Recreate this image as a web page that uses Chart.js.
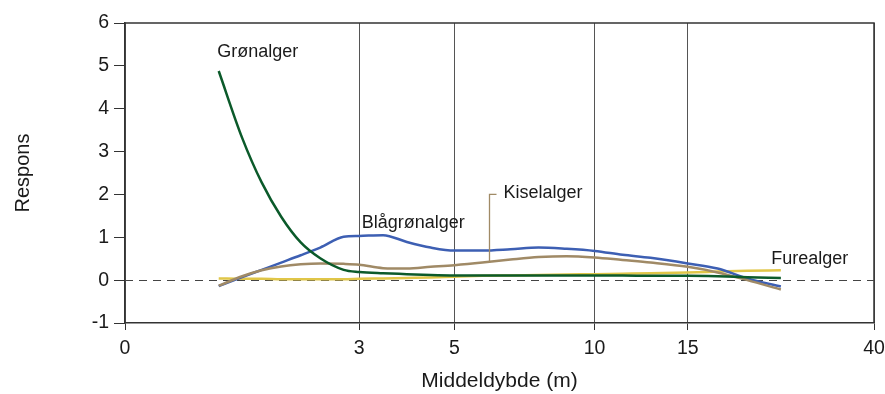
<!DOCTYPE html>
<html>
<head>
<meta charset="utf-8">
<script src="https://cdn.jsdelivr.net/npm/chart.js@4/dist/chart.umd.min.js"></script>
<style>
  html, body { margin: 0; padding: 0; background: #fff; }
  #wrap { width: 885px; height: 394px; position: relative; }
</style>
</head>
<body>
<div id="wrap"><canvas id="chart"></canvas></div>
<script>
// Mean depth (m) at which each response curve is sampled
const depths = [1.2, 1.5, 1.75, 2, 2.25, 2.5, 2.8, 3, 3.5, 4, 4.5, 5, 6, 7, 8, 9, 10, 11.5, 13, 15, 19, 23, 27.5];

// Response per algal group
const gronalger    = [4.88, 3.32, 2.28, 1.48, 0.88, 0.51, 0.24, 0.19, 0.16, 0.14, 0.12, 0.11, 0.11, 0.11, 0.11, 0.11, 0.11, 0.11, 0.10, 0.10, 0.09, 0.07, 0.05];
const blagronalger = [-0.14, 0.07, 0.24, 0.41, 0.58, 0.76, 1.01, 1.03, 1.05, 0.89, 0.76, 0.69, 0.69, 0.72, 0.76, 0.73, 0.68, 0.59, 0.52, 0.39, 0.27, 0.04, -0.15];
const kiselalger   = [-0.13, 0.09, 0.23, 0.32, 0.37, 0.39, 0.38, 0.36, 0.28, 0.27, 0.31, 0.35, 0.41, 0.48, 0.54, 0.56, 0.53, 0.47, 0.41, 0.31, 0.18, 0.00, -0.22];
const furealger    = [0.04, 0.03, 0.03, 0.02, 0.02, 0.02, 0.02, 0.03, 0.04, 0.05, 0.06, 0.08, 0.10, 0.11, 0.12, 0.13, 0.14, 0.15, 0.16, 0.18, 0.20, 0.22, 0.23];

// Axis ticks
const depthTicks = [0, 3, 5, 10, 15, 40];
const responsTicks = [-1, 0, 1, 2, 3, 4, 5, 6];

// The depth axis is stretched piecewise: each tick sits at a fixed fraction of the axis
const depthTickFractions = [0, 0.3128, 0.4398, 0.6270, 0.7513, 1];

const FONT = '"Liberation Sans", Arial, Helvetica, sans-serif';
const COLORS = {
  gron: '#0b5a2a',
  blagron: '#3d5fb3',
  kisel: '#a08a66',
  fure: '#e0c648',
  axis: '#333333',
  grid: '#555555',
  text: '#1a1a1a'
};

function depthToFraction(v) {
  const t = depthTicks, f = depthTickFractions;
  if (v <= t[0]) return f[0];
  for (let i = 1; i < t.length; i++) {
    if (v <= t[i]) return f[i - 1] + (v - t[i - 1]) / (t[i] - t[i - 1]) * (f[i] - f[i - 1]);
  }
  return f[f.length - 1];
}
function fractionToDepth(d) {
  const t = depthTicks, f = depthTickFractions;
  if (d <= f[0]) return t[0];
  for (let i = 1; i < f.length; i++) {
    if (d <= f[i]) return t[i - 1] + (d - f[i - 1]) / (f[i] - f[i - 1]) * (t[i] - t[i - 1]);
  }
  return t[t.length - 1];
}

class PiecewiseDepthScale extends Chart.LinearScale {
  static id = 'piecewiseDepth';
  static defaults = {};
  buildTicks() {
    this.min = depthTicks[0];
    this.max = depthTicks[depthTicks.length - 1];
    return depthTicks.map(v => ({ value: v }));
  }
  getPixelForValue(value) {
    return this.getPixelForDecimal(depthToFraction(value));
  }
  getValueForPixel(pixel) {
    return fractionToDepth(this.getDecimalForPixel(pixel));
  }
}
Chart.register(PiecewiseDepthScale);

function series(values) {
  return depths.map((d, i) => ({ x: d, y: values[i] }));
}
function valueAt(values, depth) {
  for (let i = 1; i < depths.length; i++) {
    if (depth <= depths[i]) {
      const t = (depth - depths[i - 1]) / (depths[i] - depths[i - 1]);
      return values[i - 1] + t * (values[i] - values[i - 1]);
    }
  }
  return values[values.length - 1];
}

// Frame, dashed zero reference and the in-plot series names
const framePlugin = {
  id: 'frameAndZero',
  beforeDatasetsDraw(chart) {
    const { ctx, chartArea: a, scales: { y } } = chart;
    ctx.save();
    ctx.strokeStyle = COLORS.axis;
    ctx.lineWidth = 1.5;
    ctx.beginPath();
    ctx.moveTo(a.left, a.top);
    ctx.lineTo(a.right, a.top);
    ctx.lineTo(a.right, a.bottom);
    ctx.stroke();
    const y0 = Math.round(y.getPixelForValue(0)) + 0.5;
    ctx.strokeStyle = '#444';
    ctx.lineWidth = 1;
    ctx.setLineDash([8, 6]);
    ctx.beginPath();
    ctx.moveTo(a.left, y0);
    ctx.lineTo(a.right, y0);
    ctx.stroke();
    ctx.restore();
  }
};

const seriesLabels = [
  { text: 'Grønalger',    depth: 1.18, value: 5.32 },
  { text: 'Blågrønalger', depth: 3.05, value: 1.33 },
  { text: 'Kiselalger',   depth: 6.75, value: 2.03 },
  { text: 'Furealger',    depth: 26.2, value: 0.49 }
];

const labelPlugin = {
  id: 'seriesLabels',
  afterDatasetsDraw(chart) {
    const { ctx, scales: { x, y } } = chart;
    ctx.save();
    // leader from the Kiselalger curve up to its name
    const leaderDepth = 6.25;
    const lx = Math.round(x.getPixelForValue(leaderDepth)) + 0.5;
    const yTop = y.getPixelForValue(2.0);
    const yBot = y.getPixelForValue(valueAt(kiselalger, leaderDepth));
    ctx.strokeStyle = COLORS.kisel;
    ctx.lineWidth = 1.3;
    ctx.beginPath();
    ctx.moveTo(lx, yBot);
    ctx.lineTo(lx, yTop);
    ctx.lineTo(lx + 7, yTop);
    ctx.stroke();

    ctx.font = '18px ' + FONT;
    ctx.fillStyle = COLORS.text;
    ctx.textAlign = 'left';
    ctx.textBaseline = 'middle';
    seriesLabels.forEach(l => {
      ctx.fillText(l.text, x.getPixelForValue(l.depth), y.getPixelForValue(l.value));
    });
    ctx.restore();
  }
};

const lineStyle = {
  borderWidth: 2.5,
  pointRadius: 0,
  fill: false,
  cubicInterpolationMode: 'monotone'
};

new Chart(document.getElementById('chart'), {
  type: 'line',
  data: {
    datasets: [
      { label: 'Grønalger',    data: series(gronalger),    borderColor: COLORS.gron,    order: 0, ...lineStyle },
      { label: 'Blågrønalger', data: series(blagronalger), borderColor: COLORS.blagron, order: 2, ...lineStyle },
      { label: 'Kiselalger',   data: series(kiselalger),   borderColor: COLORS.kisel,   order: 1, ...lineStyle },
      { label: 'Furealger',    data: series(furealger),    borderColor: COLORS.fure,    order: 3, ...lineStyle }
    ]
  },
  options: {
    responsive: true,
    maintainAspectRatio: false,
    animation: false,
    layout: { padding: { top: 23, right: 11, bottom: 0, left: 0 } },
    plugins: {
      legend: { display: false },
      tooltip: { enabled: false }
    },
    scales: {
      x: {
        type: 'piecewiseDepth',
        position: 'bottom',
        min: 0,
        max: 40,
        grid: {
          drawOnChartArea: true,
          drawTicks: true,
          tickLength: 7,
          color: COLORS.grid,
          tickColor: COLORS.axis,
          lineWidth: 1
        },
        border: { display: true, color: COLORS.axis, width: 1.5 },
        ticks: {
          autoSkip: false,
          maxRotation: 0,
          padding: 7,
          color: COLORS.text,
          font: { family: FONT, size: 19.5 },
          callback: v => String(v)
        },
        title: {
          display: true,
          text: 'Middeldybde (m)',
          color: COLORS.text,
          font: { family: FONT, size: 21 },
          padding: { top: 0, bottom: 0 }
        },
        afterFit(scale) {
          scale.height = 71;
          scale.paddingLeft = 0;
          scale.paddingRight = 0;
        }
      },
      y: {
        type: 'linear',
        min: -1,
        max: 6,
        afterBuildTicks(scale) { scale.ticks = responsTicks.map(v => ({ value: v })); },
        grid: {
          drawOnChartArea: false,
          drawTicks: true,
          tickLength: 11,
          tickColor: COLORS.axis
        },
        border: { display: true, color: COLORS.axis, width: 1.5 },
        ticks: {
          padding: 5,
          color: COLORS.text,
          font: { family: FONT, size: 19.5 }
        },
        title: {
          display: true,
          text: 'Respons',
          color: COLORS.text,
          font: { family: FONT, size: 20 },
          padding: { top: 11, bottom: 0 }
        },
        afterFit(scale) {
          scale.width = 125;
          scale.paddingTop = 0;
          scale.paddingBottom = 0;
        }
      }
    }
  },
  plugins: [framePlugin, labelPlugin]
});
</script>
</body>
</html>
